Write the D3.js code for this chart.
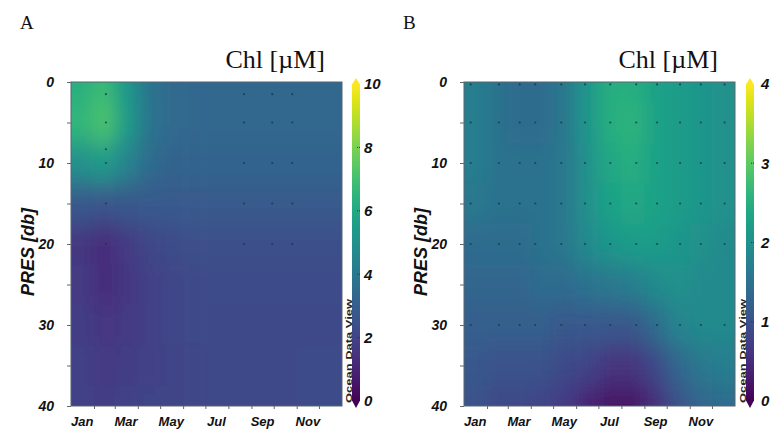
<!DOCTYPE html>
<html>
<head>
<meta charset="utf-8">
<script src="https://cdn.jsdelivr.net/npm/d3@7"></script>
<style>
  body { margin: 0; background: #fff; }
  svg { display: block; }
  .axis text { font-family: Arial, "Liberation Sans", sans-serif; font-weight: bold; font-style: italic; }
</style>
</head>
<body>
<div id="chart"></div>
<script>
// grid columns: mid-month day of year, rows: pressure levels
const months = ["Jan", "Feb", "Mar", "Apr", "May", "Jun", "Jul", "Aug", "Sep", "Oct", "Nov", "Dec"];
const monthMidDays = [15, 46, 74, 105, 135, 166, 196, 227, 258, 288, 319, 349];
const monthStartDays = [0, 31, 59, 90, 120, 151, 181, 212, 243, 273, 304, 334, 365];
const depths = [0, 5, 10, 15, 20, 25, 30, 35, 40];

// Panel A chlorophyll (rows = depths, cols = months)
const chlA = [
  [6.3, 6.8, 5.3, 3.8, 3.4, 3.3, 3.3, 3.3, 3.3, 3.3, 3.3, 3.3],
  [6.6, 7.2, 5.5, 3.9, 3.4, 3.3, 3.3, 3.3, 3.3, 3.3, 3.3, 3.3],
  [5.0, 5.5, 4.5, 3.5, 3.2, 3.2, 3.2, 3.2, 3.2, 3.2, 3.2, 3.2],
  [2.7, 2.6, 2.7, 2.8, 2.8, 2.8, 2.8, 2.8, 2.8, 2.8, 2.8, 2.8],
  [1.6, 1.2, 1.7, 2.1, 2.3, 2.4, 2.4, 2.4, 2.4, 2.4, 2.4, 2.4],
  [1.7, 1.2, 1.6, 1.9, 2.1, 2.2, 2.3, 2.3, 2.3, 2.3, 2.3, 2.3],
  [1.8, 1.5, 1.7, 1.9, 2.1, 2.2, 2.2, 2.2, 2.2, 2.2, 2.2, 2.2],
  [1.9, 1.7, 1.8, 1.9, 2.0, 2.1, 2.2, 2.2, 2.2, 2.2, 2.3, 2.3],
  [1.9, 1.8, 1.9, 2.0, 2.0, 2.1, 2.2, 2.2, 2.2, 2.2, 2.3, 2.3]
];

// Panel B chlorophyll
const chlB = [
  [1.7, 1.5, 1.4, 1.4, 1.6, 2.1, 2.5, 2.5, 2.3, 2.2, 2.1, 2.0],
  [1.7, 1.5, 1.4, 1.4, 1.6, 2.1, 2.5, 2.6, 2.3, 2.2, 2.1, 2.0],
  [1.7, 1.5, 1.5, 1.5, 1.6, 2.0, 2.4, 2.5, 2.3, 2.2, 2.1, 2.0],
  [1.6, 1.5, 1.5, 1.5, 1.6, 2.0, 2.3, 2.4, 2.3, 2.2, 2.1, 2.0],
  [1.4, 1.4, 1.4, 1.5, 1.6, 1.9, 2.1, 2.2, 2.2, 2.1, 2.0, 1.9],
  [1.3, 1.3, 1.3, 1.4, 1.4, 1.5, 1.6, 1.7, 1.9, 2.0, 1.9, 1.9],
  [1.2, 1.2, 1.2, 1.2, 1.1, 1.1, 1.1, 1.1, 1.4, 1.8, 1.9, 1.9],
  [1.1, 1.0, 1.0, 1.0, 0.9, 0.8, 0.6, 0.6, 0.9, 1.3, 1.6, 1.7],
  [1.0, 0.9, 0.9, 0.8, 0.7, 0.4, 0.2, 0.2, 0.5, 1.0, 1.3, 1.4]
];

// sample stations [day of year, pressure]
const stationDaysA = [47, 233, 271, 298];
const stationDepthsA = [1.5, 5, 10, 15, 20];
const extraDotsA = [[47, 8.3]];
const stationDaysB = [9, 47, 75, 96, 131, 163, 197, 232, 260, 291, 319, 351];
const stationDepthsB = [0.3, 5, 10, 15, 20, 30];

const monthLabels = ["Jan", "Mar", "May", "Jul", "Sep", "Nov"];
const monthLabelDays = [15, 74, 135, 196, 258, 319];
const depthTicks = [0, 5, 10, 15, 20, 25, 30, 35, 40];
const depthLabels = [0, 10, 20, 30, 40];
const cbTicksA = [0, 2, 4, 6, 8, 10];
const cbTicksB = [0, 1, 2, 3, 4];

const W = 770, H = 432;
const svg = d3.select("#chart").append("svg").attr("width", W).attr("height", H);
const defs = svg.append("defs");

const blur = defs.append("filter").attr("id", "smooth")
  .attr("x", "-20%").attr("y", "-20%").attr("width", "140%").attr("height", "140%");
blur.append("feGaussianBlur").attr("stdDeviation", "9 13");

const grad = defs.append("linearGradient").attr("id", "cbGrad")
  .attr("x1", 0).attr("y1", 1).attr("x2", 0).attr("y2", 0);
d3.range(0, 1.0001, 0.05).forEach(t => {
  grad.append("stop").attr("offset", t).attr("stop-color", d3.interpolateViridis(t));
});

function drawPanel(cfg) {
  const { left, right, top, bottom } = cfg;
  const x = d3.scaleLinear().domain([0, 365]).range([left, right]);
  const y = d3.scaleLinear().domain([0, 40]).range([top, bottom]);
  const color = d3.scaleSequential(d3.interpolateViridis).domain([0, cfg.max]);
  const pad = 30;

  defs.append("clipPath").attr("id", "clip" + cfg.id)
    .append("rect").attr("x", left).attr("y", top)
    .attr("width", right - left).attr("height", bottom - top);

  const cells = [];
  cfg.grid.forEach((row, r) => row.forEach((v, c) => cells.push({ r, c, v })));

  const g = svg.append("g").attr("clip-path", `url(#clip${cfg.id})`);
  g.append("g").attr("filter", "url(#smooth)")
    .selectAll("rect").data(cells).enter().append("rect")
    .attr("x", d => x(monthStartDays[d.c]) - (d.c === 0 ? pad : 0))
    .attr("width", d => x(monthStartDays[d.c + 1]) - x(monthStartDays[d.c]) + (d.c === 0 || d.c === 11 ? pad : 0) + 0.5)
    .attr("y", d => y(depths[d.r] - 2.5) - (d.r === 0 ? pad : 0))
    .attr("height", d => y(depths[d.r] + 2.5) - y(depths[d.r] - 2.5) + (d.r === 0 || d.r === depths.length - 1 ? pad : 0) + 0.5)
    .attr("fill", d => color(d.v));

  // station dots
  const dots = [];
  cfg.days.forEach(dd => cfg.dotDepths.forEach(p => dots.push([dd, p])));
  cfg.extra.forEach(p => dots.push(p));
  g.selectAll("circle").data(dots).enter().append("circle")
    .attr("cx", d => x(d[0])).attr("cy", d => y(d[1])).attr("r", 1.1)
    .attr("fill", "#1d3340").attr("opacity", 0.75);

  // frame
  svg.append("rect").attr("x", left).attr("y", top)
    .attr("width", right - left).attr("height", bottom - top)
    .attr("fill", "none").attr("stroke", "#5a6470").attr("stroke-width", 1);

  // y axis
  const yAxis = svg.append("g").attr("class", "axis")
    .attr("transform", `translate(${left},0)`)
    .call(d3.axisLeft(y).tickValues(depthTicks).tickSize(4).tickPadding(13)
      .tickFormat(d => depthLabels.includes(d) ? d : ""));
  yAxis.select(".domain").remove();
  yAxis.selectAll("line").attr("stroke", "#666");
  yAxis.selectAll("text").attr("font-size", 14).attr("fill", "#111");

  // x axis: ticks at month boundaries, labels mid-month
  const xAxis = svg.append("g").attr("class", "axis")
    .attr("transform", `translate(0,${bottom})`)
    .call(d3.axisBottom(x).tickValues(monthStartDays.slice(1, 12)).tickSize(3).tickFormat(""));
  xAxis.select(".domain").remove();
  xAxis.selectAll("line").attr("stroke", "#666");
  svg.append("g").attr("class", "axis").selectAll("text").data(monthLabels).enter().append("text")
    .attr("x", (d, i) => x(monthLabelDays[i])).attr("y", 426)
    .attr("text-anchor", "middle").attr("font-size", 13).attr("fill", "#111")
    .text(d => d);

  // y axis title
  svg.append("text")
    .attr("transform", `translate(${left - 37},${(top + bottom) / 2 + 8}) rotate(-90)`)
    .attr("text-anchor", "middle")
    .style("font-family", "Arial, 'Liberation Sans', sans-serif")
    .style("font-weight", "bold").style("font-style", "italic")
    .attr("font-size", 18).attr("fill", "#111")
    .text("PRES [db]");

  // title and panel letter
  svg.append("text").attr("x", right - 17).attr("y", 68).attr("text-anchor", "end")
    .style("font-family", "'Liberation Serif', 'Times New Roman', serif")
    .attr("font-size", 26).attr("fill", "#111").text("Chl [\u00b5M]");
  svg.append("text").attr("x", cfg.letterX).attr("y", 29)
    .style("font-family", "'Liberation Serif', 'Times New Roman', serif")
    .attr("font-size", 19).attr("fill", "#111").text(cfg.id);

  // colorbar
  const cb = d3.scaleLinear().domain([0, cfg.max]).range([401, 84]);
  const cbX = cfg.cbX, cbW = 8;
  svg.append("rect").attr("x", cbX).attr("y", cb(cfg.max))
    .attr("width", cbW).attr("height", cb(0) - cb(cfg.max))
    .attr("fill", "url(#cbGrad)");
  svg.append("path")
    .attr("d", `M${cbX},${cb(cfg.max) + 0.5}L${cbX + cbW / 2},${cb(cfg.max) - 6}L${cbX + cbW},${cb(cfg.max) + 0.5}Z`)
    .attr("fill", d3.interpolateViridis(1));
  svg.append("path")
    .attr("d", `M${cbX},${cb(0) - 0.5}L${cbX + cbW / 2},${cb(0) + 7}L${cbX + cbW},${cb(0) - 0.5}Z`)
    .attr("fill", d3.interpolateViridis(0));
  const cbAxis = svg.append("g").attr("class", "axis")
    .attr("transform", `translate(${cbX + cbW},0)`)
    .call(d3.axisRight(cb).tickValues(cfg.cbTicks).tickSize(0).tickPadding(cfg.cbPad)
      .tickFormat(d3.format("d")));
  cbAxis.select(".domain").remove();
  cbAxis.selectAll("text").attr("font-size", 15).attr("fill", "#111");
  svg.append("g").selectAll("line").data(cfg.cbTicks.slice(1, -1)).enter().append("line")
    .attr("x1", cbX + cbW - 3).attr("x2", cbX + cbW + 1)
    .attr("y1", d => cb(d)).attr("y2", d => cb(d))
    .attr("stroke", "#333").attr("stroke-width", 1).attr("stroke-dasharray", "1,1");

  // watermark
  svg.append("text")
    .attr("transform", `translate(${cbX - 0.5},403) rotate(-90)`)
    .attr("textLength", 104).attr("lengthAdjust", "spacingAndGlyphs")
    .style("font-family", "Arial, 'Liberation Sans', sans-serif")
    .style("font-weight", "bold")
    .attr("font-size", 9).attr("fill", "#222").text("Ocean Data View");
}

drawPanel({ id: "A", left: 71, right: 342, top: 82, bottom: 406, grid: chlA, max: 10,
  days: stationDaysA, dotDepths: stationDepthsA, extra: extraDotsA,
  cbX: 352, cbTicks: cbTicksA, cbPad: 4, letterX: 20 });
drawPanel({ id: "B", left: 464, right: 735, top: 82, bottom: 406, grid: chlB, max: 4,
  days: stationDaysB, dotDepths: stationDepthsB, extra: [],
  cbX: 746, cbTicks: cbTicksB, cbPad: 7, letterX: 403 });
</script>
</body>
</html>
